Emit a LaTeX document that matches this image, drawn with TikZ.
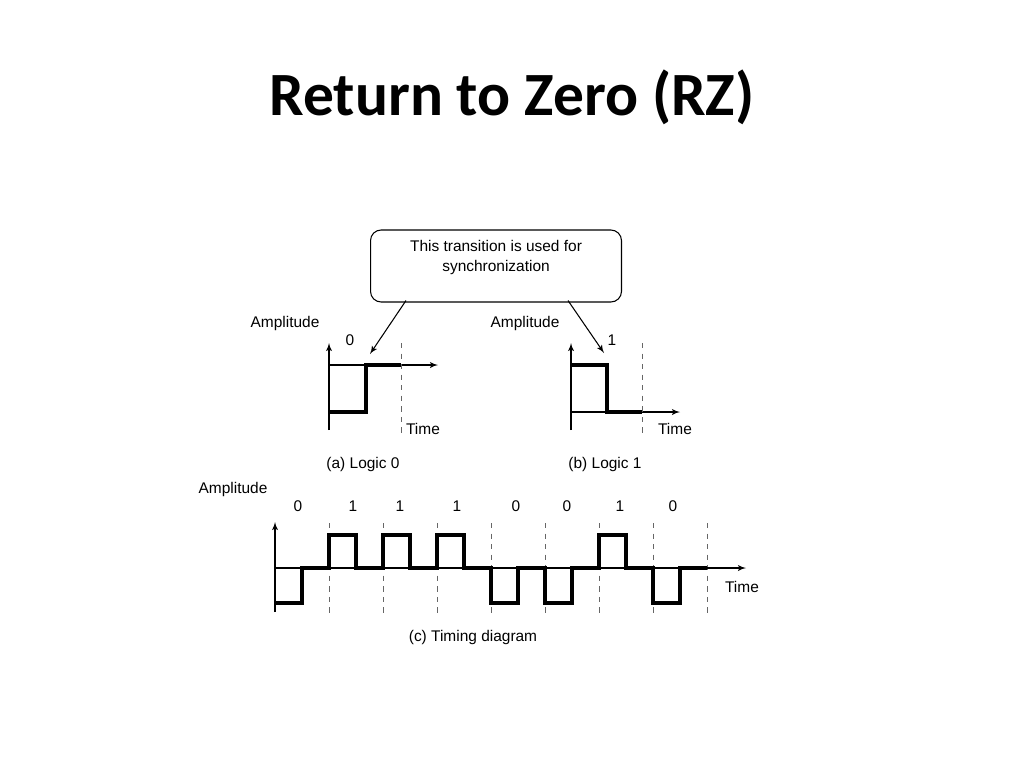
\documentclass[tikz,border=0pt]{standalone}
\usepackage{fontspec}
\setmainfont{Liberation Sans}
\newfontfamily\titlefont{Carlito}
\usepackage{tikz}
\usetikzlibrary{shapes,arrows}
\tikzstyle{callout} = [rectangle, draw, line width=0.6pt, rounded corners=6pt,
    minimum width=5.02cm, minimum height=1.44cm, align=center, inner sep=0pt]
\tikzstyle{lbl} = [inner sep=0pt, font=\fontsize{8.8}{11.3}\selectfont]
\tikzstyle{line} = [draw, line width=0.6pt, -latex']
\tikzstyle{axis} = [draw, line width=0.6pt, -latex']
\tikzstyle{signal} = [draw, line width=1.8pt]
\tikzstyle{slot} = [draw, dashed, gray!80!black, line width=0.5pt]

\begin{document}
\begin{tikzpicture}[x=0.02cm, y=-0.02cm]
    \useasboundingbox (0,0) rectangle (1024,768);
    % Title
    \node [inner sep=0pt, font=\titlefont\bfseries\fontsize{35}{40}\selectfont] (title) at (512,97) {Return to Zero (RZ)};
    % Place nodes
    \node [callout, font=\fontsize{8.8}{11.3}\selectfont] (note) at (496,266) {This transition is used for\\synchronization\\~};
    \coordinate (tipa) at (370,354);
    \coordinate (tipb) at (604,353);
    % (a) Logic 0
    \node [lbl] (ampa) at (285,323) {Amplitude};
    \node [lbl] (bita) at (350,340) {0};
    \node [lbl] (timea) at (423,429) {Time};
    \node [lbl] (capa) at (363,464) {(a) Logic 0};
    \path [axis] (329,430) -- (329,343);
    \path [axis] (329,365) -- (438,365);
    \path [slot] (401,343) -- (401,433);
    \path [signal] (329,412) -- (366,412) -- (366,365) -- (401,365);
    % (b) Logic 1
    \node [lbl] (ampb) at (525,323) {Amplitude};
    \node [lbl] (bitb) at (612,340) {1};
    \node [lbl] (timeb) at (675,429) {Time};
    \node [lbl] (capb) at (605,464) {(b) Logic 1};
    \path [axis] (571,430) -- (571,343);
    \path [axis] (571,412) -- (680,412);
    \path [slot] (642,343) -- (642,433);
    \path [signal] (571,365) -- (607,365) -- (607,412) -- (642,412);
    % Draw edges
    \path [line] (note.south) ++(-90,-2) -- (tipa);
    \path [line] (note.south) ++(72,-2) -- (tipb);
    % (c) Timing diagram
    \node [lbl] (ampc) at (233,489) {Amplitude};
    \node [lbl] (timec) at (742,587) {Time};
    \node [lbl] (capc) at (473,637) {(c) Timing diagram};
    \foreach \b/\x [count=\i from 0] in {0/298,1/353,1/400,1/457,0/516,0/567,1/620,0/673}
        \node [lbl] (bitc\i) at (\x,506) {\b};
    \foreach \i in {1,...,8}
        \path [slot] (275+54*\i,523) -- (275+54*\i,615);
    \path [axis] (275,612) -- (275,522);
    \path [axis] (275,568) -- (746,568);
    \path [signal] (275,603) -- (302,603) -- (302,568) -- (329,568)
        -- (329,535) -- (356,535) -- (356,568) -- (383,568)
        -- (383,535) -- (410,535) -- (410,568) -- (437,568)
        -- (437,535) -- (464,535) -- (464,568) -- (491,568)
        -- (491,603) -- (518,603) -- (518,568) -- (545,568)
        -- (545,603) -- (572,603) -- (572,568) -- (599,568)
        -- (599,535) -- (626,535) -- (626,568) -- (653,568)
        -- (653,603) -- (680,603) -- (680,568) -- (707,568);
\end{tikzpicture}
\end{document}
